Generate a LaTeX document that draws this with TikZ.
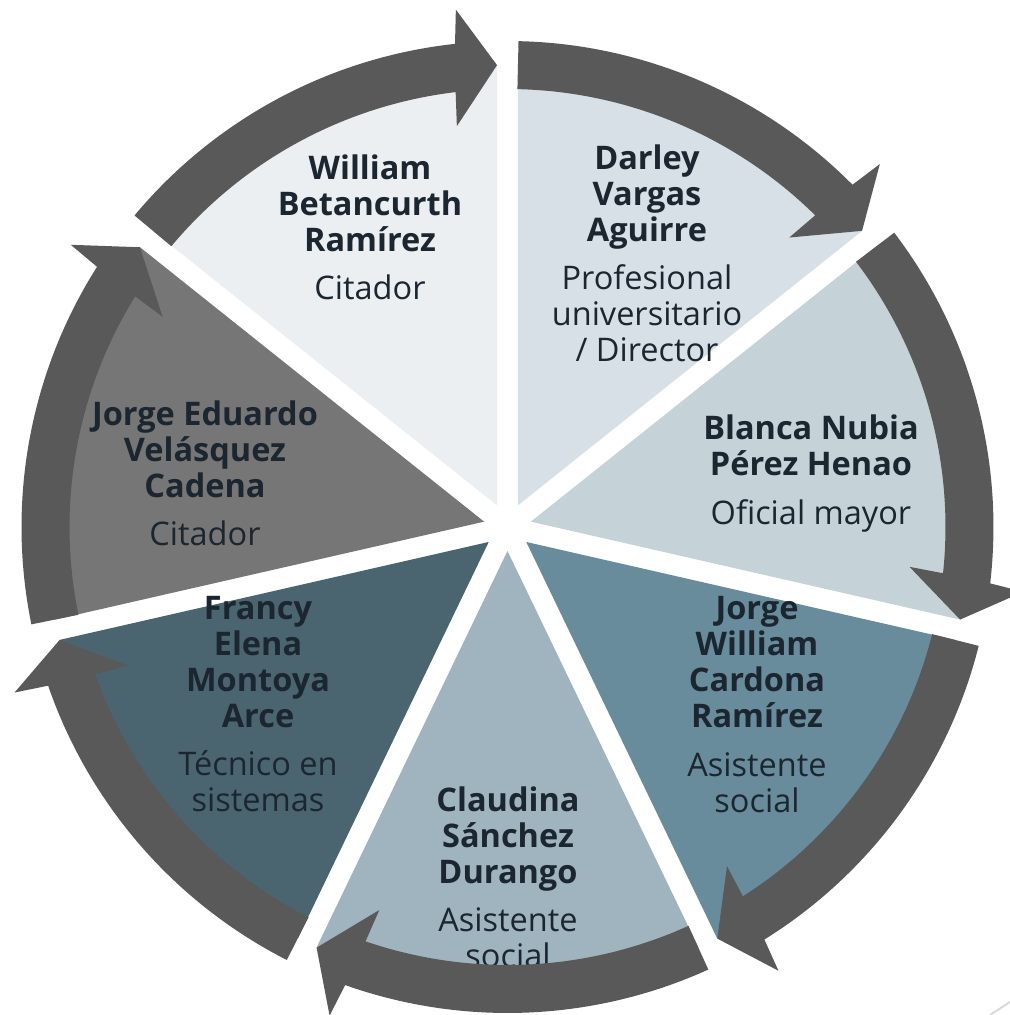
\documentclass[tikz,border=0pt]{standalone}
\usepackage{fontspec}
\setmainfont{Open Sans}
\usepackage{tikz}
\definecolor{williamfill}{HTML}{EBEFF2}
\definecolor{darleyfill}{HTML}{D7E0E6}
\definecolor{blancafill}{HTML}{C5D3D9}
\definecolor{jorgewfill}{HTML}{688C9C}
\definecolor{claudinafill}{HTML}{9FB4BF}
\definecolor{francyfill}{HTML}{4A6570}
\definecolor{jorgeefill}{HTML}{767676}
\definecolor{arrowgrey}{HTML}{595959}
\definecolor{namedark}{HTML}{1C2630}

\begin{document}
\begin{tikzpicture}[scale=0.02]
        \tikzstyle{member}=[font=\fontsize{18.5}{20.5}\selectfont\bfseries, align=center, text=namedark, inner sep=0pt]
        \useasboundingbox (-507.5,-488) rectangle (502.5,527);
        \clip (-507.5,-488) rectangle (502.5,527);
        \fill [darleyfill, shift={(64.286:24)}] (0,0) -- (90:440) arc [start angle=90, end angle=38.571, radius=440] -- cycle;
        \fill [blancafill, shift={(12.857:24)}] (0,0) -- (38.571:440) arc [start angle=38.571, end angle=-12.857, radius=440] -- cycle;
        \fill [jorgewfill, shift={(-38.571:24)}] (0,0) -- (-12.857:440) arc [start angle=-12.857, end angle=-64.286, radius=440] -- cycle;
        \fill [claudinafill, shift={(-90:24)}] (0,0) -- (-64.286:440) arc [start angle=-64.286, end angle=-115.714, radius=440] -- cycle;
        \fill [francyfill, shift={(-141.429:24)}] (0,0) -- (-115.714:440) arc [start angle=-115.714, end angle=-167.143, radius=440] -- cycle;
        \fill [jorgeefill, shift={(-192.857:24)}] (0,0) -- (-167.143:440) arc [start angle=-167.143, end angle=-218.571, radius=440] -- cycle;
        \fill [williamfill, shift={(-244.286:24)}] (0,0) -- (-218.571:440) arc [start angle=-218.571, end angle=-270, radius=440] -- cycle;
        \node [member] (william) at (-137.5,299.5) {William\\Betancurth\\Ramírez\\[7pt]\mdseries Citador};
        \node [member] (darley) at (139.5,273.5) {Darley\\Vargas\\Aguirre\\[7pt]\mdseries Profesional\\\mdseries universitario\\\mdseries / Director};
        \node [member] (blanca) at (303.5,53.5) {Blanca Nubia\\Pérez Henao\\[7pt]\mdseries Oficial mayor};
        \node [member] (jorgew) at (249.5,-177.5) {Jorge\\William\\Cardona\\Ramírez\\[7pt]\mdseries Asistente\\\mdseries social};
        \node [member] (claudina) at (0.5,-350) {Claudina\\Sánchez\\Durango\\[7pt]\mdseries Asistente\\\mdseries social};
        \node [member] (francy) at (-249.5,-177) {Francy\\Elena\\Montoya\\Arce\\[7pt]\mdseries Técnico en\\\mdseries sistemas};
        \node [member] (jorgee) at (-302.5,53.5) {Jorge Eduardo\\Velásquez\\Cadena\\[7pt]\mdseries Citador};
        \fill [arrowgrey] (88.7:486) arc [start angle=88.7, end angle=44.77, radius=486] -- (44.27:520) -- (39.87:462) -- (45.77:404) -- (45.37:438) arc [start angle=45.37, end angle=88.7, radius=438] -- cycle;
        \fill [arrowgrey] (37.27:486) arc [start angle=37.27, end angle=-6.66, radius=486] -- (-7.16:520) -- (-11.56:462) -- (-5.66:404) -- (-6.06:438) arc [start angle=-6.06, end angle=37.27, radius=438] -- cycle;
        \fill [arrowgrey] (-14.16:486) arc [start angle=-14.16, end angle=-58.09, radius=486] -- (-58.59:520) -- (-62.99:462) -- (-57.09:404) -- (-57.49:438) arc [start angle=-57.49, end angle=-14.16, radius=438] -- cycle;
        \fill [arrowgrey] (-65.59:486) arc [start angle=-65.59, end angle=-109.51, radius=486] -- (-110.01:520) -- (-114.41:462) -- (-108.51:404) -- (-108.91:438) arc [start angle=-108.91, end angle=-65.59, radius=438] -- cycle;
        \fill [arrowgrey] (-117.01:486) arc [start angle=-117.01, end angle=-160.94, radius=486] -- (-161.44:520) -- (-165.84:462) -- (-159.94:404) -- (-160.34:438) arc [start angle=-160.34, end angle=-117.01, radius=438] -- cycle;
        \fill [arrowgrey] (-168.44:486) arc [start angle=-168.44, end angle=-212.37, radius=486] -- (-212.87:520) -- (-217.27:462) -- (-211.37:404) -- (-211.77:438) arc [start angle=-211.77, end angle=-168.44, radius=438] -- cycle;
        \fill [arrowgrey] (-219.87:486) arc [start angle=-219.87, end angle=-263.8, radius=486] -- (-264.3:520) -- (-268.7:462) -- (-262.8:404) -- (-263.2:438) arc [start angle=-263.2, end angle=-219.87, radius=438] -- cycle;
        \draw [black!15, line width=1.1pt] (482.5,-488) -- (502.5,-475);
\end{tikzpicture}
\end{document}
